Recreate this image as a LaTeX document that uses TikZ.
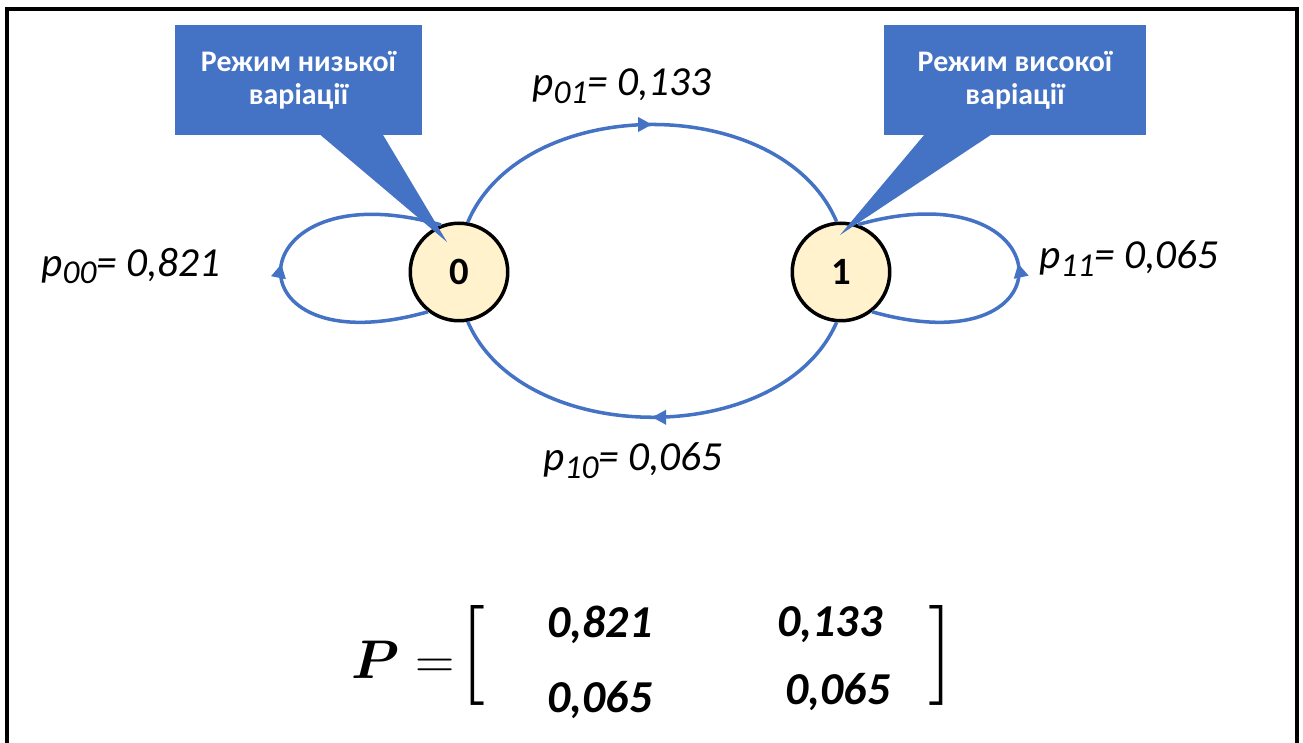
\RequirePackage{fix-cm}
\documentclass[tikz,border=0pt]{standalone}
\usepackage{fontspec}
\setmainfont{Carlito}
\usepackage{bm}
\usetikzlibrary{arrows.meta, decorations.markings, calc}

\definecolor{stateblue}{HTML}{4472C4}
\definecolor{statefill}{HTML}{FFF2CC}

\newcommand{\lowidx}[1]{\raisebox{-0.4ex}{\fontsize{19}{19}\selectfont #1}}

\begin{document}
\begin{tikzpicture}[x=0.02cm, y=-0.02cm,
    state/.style={circle, draw=black, line width=2pt, fill=statefill,
        minimum size=1.95cm, inner sep=0pt, font=\fontsize{22}{24}\selectfont\bfseries},
    flow/.style={stateblue, line width=2pt, postaction={decorate},
        decoration={markings, mark=at position 0.5 with {\arrow{Triangle[width=8pt,length=8pt]}}}},
    callout/.style={fill=stateblue, text=white, align=center, inner sep=0pt,
        minimum height=2.2cm, font=\fontsize{17}{19}\selectfont\bfseries},
    prob/.style={font=\fontsize{23.5}{26}\selectfont\itshape},
    entry/.style={font=\fontsize{26}{28}\selectfont\bfseries\itshape}]

    \useasboundingbox (0,0) rectangle (1303,743);

    % Frame, open at the bottom
    \draw[line width=2pt] (7,743) -- (7,9) -- (1297,9) -- (1297,743);

    % States
    \node[state] (n0) at (459,272) {0};
    \node[state] (n1) at (841,272) {1};

    % Transitions between states
    \draw[flow] (n0.80) .. controls +(55,-130) and +(-55,-130) .. (n1.95);
    \draw[flow] (n1.-95) .. controls +(-55,127) and +(55,127) .. (n0.-80);

    % Self loops
    \draw[flow] (n0.-128) .. controls +(-205,58) and +(-205,-58) .. (n0.111);
    \draw[flow] (n1.-52) .. controls +(205,58) and +(205,-58) .. (n1.70);

    % Transition labels
    \node[prob] (l01) at (622,86) {p\lowidx{01}= 0,133};
    \node[prob] (l10) at (633,461) {p\lowidx{10}= 0,065};
    \node[prob] (l00) at (131,266) {p\lowidx{00}= 0,821};
    \node[prob] (l11) at (1129,259) {p\lowidx{11}= 0,065};

    % Callouts
    \node[callout, minimum width=4.94cm] (low) at (298.5,80) {Режим низької\\варіації};
    \node[callout, minimum width=5.24cm] (high) at (1015,80) {Режим високої\\варіації};
    \coordinate (tip0) at (447,242);
    \coordinate (tip1) at (840,235);
    \fill[stateblue] ($(low.south west)+(145,-1)$) -- (tip0) -- ($(low.south west)+(208,-1)$) -- cycle;
    \fill[stateblue] ($(high.south west)+(41,-1)$) -- (tip1) -- ($(high.south west)+(108,-1)$) -- cycle;

    % Transition matrix
    \node[inner sep=0pt] (pm) at (403,660) {\fontsize{31}{36}\selectfont$\bm{P}=$};
    \node[inner sep=0pt] (lb) at (473,655) {\fontsize{57}{60}\selectfont$[$};
    \node[inner sep=0pt] (rb) at (941,655) {\fontsize{57}{60}\selectfont$]$};
    \node[entry] (m00) at (600,625) {0,821};
    \node[entry] (m01) at (830,625) {0,133};
    \node[entry] (m10) at (600,700) {0,065};
    \node[entry] (m11) at (838,692) {0,065};

\end{tikzpicture}
\end{document}
